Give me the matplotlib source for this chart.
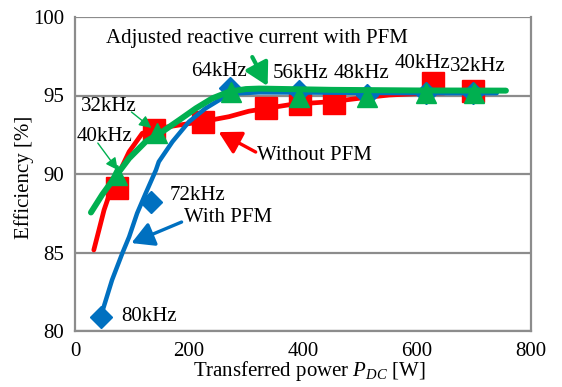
import matplotlib
matplotlib.use("Agg")
import matplotlib.pyplot as plt

plt.rcParams["font.family"] = ["Liberation Serif", "DejaVu Serif"]
plt.rcParams["mathtext.fontset"] = "custom"
plt.rcParams["mathtext.it"] = "Liberation Serif:italic"
plt.rcParams["mathtext.rm"] = "Liberation Serif"

RED = "#FF0000"
BLUE = "#0070C0"
GREEN = "#00B050"
GRAY = "#8C8C8C"

# measured points
pfm_p = [45, 133, 272, 393, 513, 615, 699]
pfm_eff = [80.9, 88.24, 95.45, 95.3, 95.03, 95.14, 95.14]

nopfm_p = [74, 139, 225, 335, 395, 454, 628, 699]
nopfm_eff = [89.09, 92.8, 93.33, 94.18, 94.44, 94.5, 95.8, 95.31]

adj_p = [74, 144, 273, 393, 513, 615, 700]
adj_eff = [89.94, 92.59, 95.24, 94.92, 94.92, 95.14, 95.14]

# trend curves
pfm_curve_p = [45, 65, 83, 95, 109, 124, 142, 147, 171, 200, 229, 258, 288, 323, 450, 600, 740]
pfm_curve_eff = [80.9, 83.25, 84.95, 86.0, 87.5, 88.77, 90.25, 90.78, 92.06, 93.33,
                 94.18, 94.82, 95.14, 95.2, 95.18, 95.15, 95.15]

nopfm_curve_p = [33, 42, 51, 63, 74, 95, 118, 147, 183, 223, 270, 305, 381, 451, 498, 551, 620, 720]
nopfm_curve_eff = [85.16, 86.43, 87.71, 88.98, 89.83, 91.42, 92.59, 92.91, 93.12, 93.33,
                   93.65, 94.0, 94.44, 94.61, 94.82, 95.03, 95.15, 95.25]

adj_curve_p = [28, 48, 65, 95, 124, 153, 183, 212, 241, 270, 300, 323, 450, 600, 756]
adj_curve_eff = [87.55, 88.7, 89.55, 91.0, 92.06, 92.69, 93.44, 94.18, 94.82, 95.24,
                 95.41, 95.44, 95.36, 95.32, 95.31]

fig = plt.figure(figsize=(5.62, 3.87), dpi=100)
ax = fig.add_axes([75 / 562, 56 / 387, 456 / 562, 314 / 387])

ax.plot(nopfm_curve_p, nopfm_curve_eff, color=RED, lw=3.4, solid_capstyle="round", zorder=2)
ax.plot(nopfm_p, nopfm_eff, "s", color=RED, ms=15.5, zorder=3)
ax.plot(pfm_curve_p, pfm_curve_eff, color=BLUE, lw=3.2, solid_capstyle="round", zorder=4)
ax.plot(pfm_p, pfm_eff, "D", color=BLUE, ms=11.5, zorder=5)
ax.plot(adj_curve_p, adj_curve_eff, color=GREEN, lw=4.3, solid_capstyle="round", zorder=6)
ax.plot(adj_p, adj_eff, "^", color=GREEN, ms=15, zorder=7)

fs = 15
ax.set_xlim(0, 800)
ax.set_ylim(80, 100)
ax.set_xticks([0, 200, 400, 600, 800])
ax.set_yticks([80, 85, 90, 95, 100])
ax.tick_params(length=0, labelsize=fs, pad=8)
ax.grid(axis="y", color=GRAY, lw=1.6)
ax.set_axisbelow(True)
for s in ["left", "right", "bottom"]:
    ax.spines[s].set_color(GRAY)
    ax.spines[s].set_linewidth(1.6)
ax.spines["top"].set_visible(False)

ax.set_ylabel("Efficiency [%]", fontsize=fs)
ax.yaxis.set_label_coords(-0.09, 0.49)
ax.set_xlabel("Transferred power $P_{DC}$ [W]", fontsize=fs)
ax.xaxis.set_label_coords(0.515, -0.09)

ax.text(55, 98.66, "Adjusted reactive current with PFM", fontsize=fs, va="center", zorder=8)
for lab, x, y in [("64kHz", 253, 96.5), ("56kHz", 396, 96.43), ("48kHz", 503, 96.43),
                  ("40kHz", 610, 97.07), ("32kHz", 706, 96.82),
                  ("32kHz", 60, 94.27), ("40kHz", 52, 92.36)]:
    ax.text(x, y, lab, fontsize=fs, ha="center", va="center", zorder=8)
ax.text(166, 88.66, "72kHz", fontsize=fs, va="center", zorder=8)
ax.text(82, 80.9, "80kHz", fontsize=fs, va="center", zorder=8)
ax.text(192, 87.2, "With PFM", fontsize=fs, va="center", zorder=8)
ax.text(320, 91.15, "Without PFM", fontsize=fs, va="center", zorder=8)

big = "-|>,head_length=0.9,head_width=0.5"
ax.annotate("", xy=(338, 95.6), xytext=(311, 97.45),
            arrowprops=dict(arrowstyle=big, color=GREEN, lw=3.0, mutation_scale=15,
                            shrinkA=0, shrinkB=0), zorder=9)
ax.annotate("", xy=(99, 85.6), xytext=(187, 86.94),
            arrowprops=dict(arrowstyle=big, color=BLUE, lw=2.4, mutation_scale=15,
                            shrinkA=0, shrinkB=0), zorder=9)
ax.annotate("", xy=(252, 92.67), xytext=(317, 91.4),
            arrowprops=dict(arrowstyle=big, color=RED, lw=2.4, mutation_scale=15,
                            shrinkA=0, shrinkB=0), zorder=9)
thin = "-|>,head_length=0.6,head_width=0.3"
ax.annotate("", xy=(134, 92.93), xytext=(99, 93.95),
            arrowprops=dict(arrowstyle=thin, color=GREEN, lw=1.0, mutation_scale=12,
                            shrinkA=0, shrinkB=0), zorder=9)
ax.annotate("", xy=(75, 90.25), xytext=(40, 91.97),
            arrowprops=dict(arrowstyle=thin, color=GREEN, lw=1.0, mutation_scale=12,
                            shrinkA=0, shrinkB=0), zorder=9)

fig.savefig("out.png", dpi=100)
